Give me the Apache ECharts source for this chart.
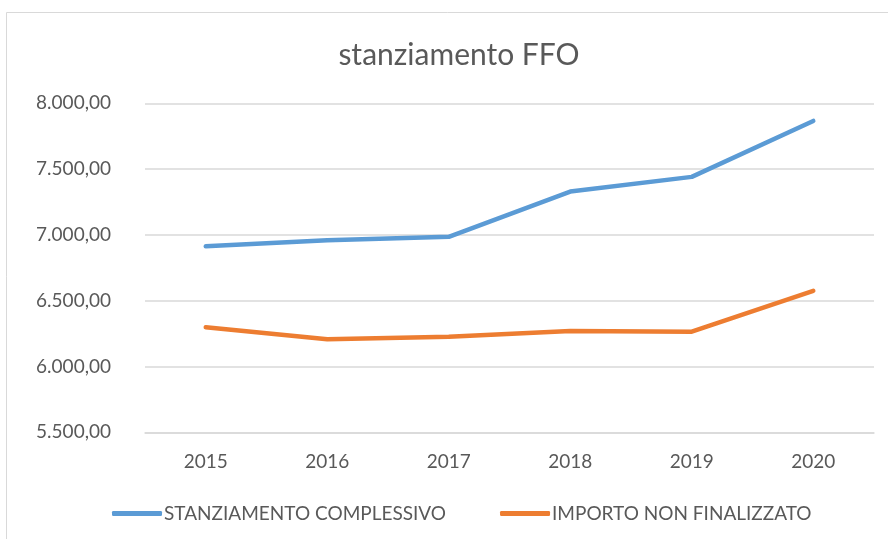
<!DOCTYPE html>
<html>
<head>
<meta charset="utf-8">
<script src="https://cdn.jsdelivr.net/npm/echarts@6/dist/echarts.min.js"></script>
<style>
html,body{margin:0;padding:0;background:#fff;}
#c{width:888px;height:539px;}
</style>
</head>
<body>
<div id="c"></div>
<script>
const categories = ['2015','2016','2017','2018','2019','2020'];
const seriesNames = ['STANZIAMENTO COMPLESSIVO','IMPORTO NON FINALIZZATO'];
const stanziamento = [6913, 6960, 6985, 7329, 7441, 7866];
const importoNonFinalizzato = [6298, 6207, 6226, 6270, 6265, 6575];
const yMin = 5500, yMax = 8000, yStep = 500;

const FONT = 'Lato, "Open Sans", sans-serif';
function fmt(v){
  const s = Math.round(v).toString().replace(/\B(?=(\d{3})+(?!\d))/g,'.');
  return s + ',00';
}
const chart = echarts.init(document.getElementById('c'));
chart.setOption({
  backgroundColor:'#fff',
  animation:false,
  title:{
    text:'stanziamento FFO',
    left:454, top:35, textAlign:'center',
    textStyle:{fontFamily:FONT, fontSize:30, fontWeight:'normal', color:'#595959'}
  },
  graphic:[{type:'rect', shape:{x:6.5,y:12.5,width:900,height:600}, style:{fill:'none', stroke:'#d9d9d9', lineWidth:1}, silent:true}],
  grid:{left:145, right:14, top:103.3, bottom:106.7, containLabel:false},
  legend:{
    left:107, top:499,
    itemWidth:50, itemHeight:5, itemGap:54,
    icon:'roundRect',
    textStyle:{fontFamily:FONT, fontSize:19, color:'#595959', padding:[0,0,0,-3]},
    data:seriesNames
  },
  xAxis:{
    type:'category', data:categories, boundaryGap:true,
    axisLine:{lineStyle:{color:'#d9d9d9', width:1.5}},
    axisTick:{show:false},
    axisLabel:{fontFamily:FONT, fontSize:19, color:'#595959', margin:20}
  },
  yAxis:{
    type:'value', min:yMin, max:yMax, interval:yStep,
    axisLine:{show:false}, axisTick:{show:false},
    splitLine:{lineStyle:{color:'#d9d9d9', width:1.5}},
    axisLabel:{fontFamily:FONT, fontSize:19, color:'#595959', margin:34, formatter:fmt}
  },
  series:[
    {name:seriesNames[0], type:'line', data:stanziamento, showSymbol:false, symbol:'none',
     itemStyle:{color:'#5B9BD5'}, lineStyle:{color:'#5B9BD5', width:4.5, cap:'round', join:'round'}},
    {name:seriesNames[1], type:'line', data:importoNonFinalizzato, showSymbol:false, symbol:'none',
     itemStyle:{color:'#ED7D31'}, lineStyle:{color:'#ED7D31', width:4.5, cap:'round', join:'round'}}
  ]
});
</script>
</body>
</html>
